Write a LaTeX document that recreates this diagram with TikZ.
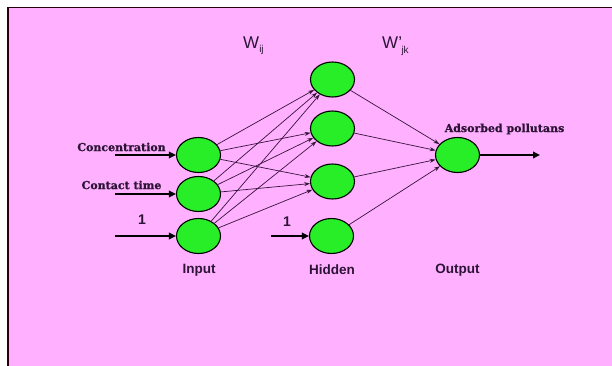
\documentclass[tikz,border=0pt]{standalone}
\usepackage{fontspec}
\setmainfont{Liberation Sans}
\newfontfamily\slabfont[BoldFeatures={FakeBold=0.8}]{DejaVu Serif}
\usetikzlibrary{shapes.geometric,arrows.meta}
\definecolor{bgpink}{RGB}{255,176,255}
\definecolor{nodegreen}{RGB}{40,238,40}
\definecolor{linecol}{RGB}{55,20,60}
\definecolor{txtcol}{RGB}{45,20,55}
\begin{document}
\begin{tikzpicture}[x=1pt,y=-1pt,
  neuron/.style={ellipse,draw=black,line width=1.1pt,fill=nodegreen,minimum width=44pt,minimum height=35pt,inner sep=0pt},
  conn/.style={draw=linecol,line width=0.7pt,-{Stealth[length=6pt,width=4pt]}},
  inarrow/.style={draw=black,line width=2pt,-{Triangle[length=7pt,width=6.5pt]}},
  slab/.style={font=\slabfont\bfseries\fontsize{11}{12}\selectfont,text=txtcol,inner sep=0pt},
  lbl/.style={font=\bfseries\fontsize{13.5}{15}\selectfont,text=txtcol,inner sep=0pt},
  onelbl/.style={font=\bfseries\fontsize{14}{15}\selectfont,text=txtcol,inner sep=0pt},
  wlbl/.style={font=\fontsize{17}{19}\selectfont,text=txtcol,inner sep=0pt,anchor=west}]
\useasboundingbox (0,0) rectangle (612,366);
\fill[white] (0,0) rectangle (612,366);
\fill[bgpink] (8,7.5) rectangle (612,366);
\draw[line width=1.2pt,black!80!purple] (8,366) -- (8,7.5) -- (612,7.5);
% neurons
\node[neuron] (I1) at (198.5,155) {};
\node[neuron] (I2) at (198.5,194) {};
\node[neuron] (I3) at (198.5,236) {};
\node[neuron] (H1) at (332.5,79.5) {};
\node[neuron] (H2) at (332.5,128.5) {};
\node[neuron] (H3) at (332.5,181.5) {};
\node[neuron] (H4) at (331.5,236) {};
\node[neuron] (O) at (457.5,155) {};
% input free ends
\coordinate (a1) at (115,155);
\coordinate (a2) at (115,194);
\coordinate (a3) at (115,236);
\coordinate (a4) at (271,236);
\coordinate (out) at (540,155);
\draw[inarrow] (a1) -- (I1);
\draw[inarrow] (a2) -- (I2);
\draw[inarrow] (a3) -- (I3);
\draw[inarrow] (a4) -- (H4);
\draw[inarrow] (O) -- (out);
% input to hidden
\foreach \i in {I1,I2,I3}{
  \foreach \h in {H1,H2,H3}{
    \draw[conn] (\i) -- (\h);
  }
}
% hidden to output
\foreach \h in {H1,H2,H3,H4}{
  \draw[conn] (\h) -- (O);
}
% labels
\node[slab] (tconc) at (121.5,147) {Concentration};
\node[slab] (tcont) at (121.5,185) {Contact time};
\node[slab] (tads) at (504.5,129) {Adsorbed pollutans};
\node[onelbl] (one1) at (142,220) {1};
\node[onelbl] (one2) at (287,222) {1};
\node[lbl] (tin) at (199,270) {Input};
\node[lbl] (thid) at (332,270) {Hidden};
\node[lbl] (tout) at (457.5,270) {Output};
\node[wlbl] (wij) at (243,46) {W\raisebox{-4pt}{\fontsize{10}{11}\selectfont ij}};
\node[wlbl] (wjk) at (382,46) {W’\kern-0.5pt\raisebox{-4.5pt}{\fontsize{10}{11}\selectfont jk}};
\end{tikzpicture}
\end{document}
